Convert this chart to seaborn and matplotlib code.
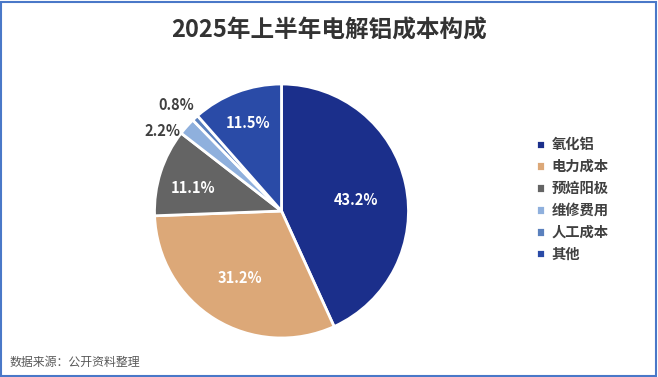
import numpy as np
import matplotlib
matplotlib.use("Agg")
import matplotlib.pyplot as plt
import seaborn as sns
from matplotlib.patches import Rectangle

sns.set_theme(style="white")
plt.rcParams['font.family'] = ['Noto Sans CJK SC', 'DejaVu Sans']

# Data
categories = ["氧化铝", "电力成本", "预焙阳极", "维修费用", "人工成本", "其他"]
shares = [43.2, 31.2, 11.1, 2.2, 0.8, 11.5]
colors = ["#1b2f8b", "#dca878", "#646464", "#8fb0dd", "#5a80bd", "#2a4ba7"]
title = "2025年上半年电解铝成本构成"
source = "数据来源：公开资料整理"

# label placement per slice (radial distance, angle nudge in degrees)
label_dist = [0.59, 0.62, 0.72, 1.13, 1.18, 0.74]
label_nudge = [-4, 0, 3, 8, 2, 0]
label_inside = [True, True, True, False, False, True]

fig = plt.figure(figsize=(6.58, 3.77), dpi=100)
W, H = 658, 377

# pie axes positioned by pixel centre / radius
cx, cy, r = 281.5, 211, 127
ax = fig.add_axes([(cx - r) / W, (H - cy - r) / H, 2 * r / W, 2 * r / H])
wedges, _ = ax.pie(shares, colors=colors, startangle=90, counterclock=False,
                   wedgeprops=dict(edgecolor="white", linewidth=2))
ax.set_xlim(-1, 1)
ax.set_ylim(-1, 1)
ax.set_aspect("equal")
ax.axis("off")

for w, val, d, nud, inside in zip(wedges, shares, label_dist, label_nudge, label_inside):
    ang = np.deg2rad((w.theta1 + w.theta2) / 2 + nud)
    ax.text(d * np.cos(ang), d * np.sin(ang), f"{val:.1f}%",
            ha="center", va="center", fontsize=10.5, fontweight="bold",
            color="white" if inside else "#404040", clip_on=False)

fig.text(0.5, 1 - 31 / H, title, ha="center", va="center",
         fontsize=17, fontweight="bold", color="#333333")

# legend
leg = fig.legend(wedges, categories, loc="center left",
                 bbox_to_anchor=(523 / W, 1 - 200 / H), frameon=False,
                 handlelength=0.65, handleheight=0.65, handletextpad=0.45,
                 labelspacing=0.55, fontsize=10.3)
for t in leg.get_texts():
    t.set_color("#404040")
    t.set_fontweight("bold")

fig.text(10 / W, 1 - 362 / H, source, ha="left", va="center",
         fontsize=8.6, color="#595959")

# outer border
fig.patches.append(Rectangle((0.0015, 0.002), 0.996, 0.994, transform=fig.transFigure,
                             fill=False, edgecolor="#4a78c8", linewidth=1.5))

fig.savefig("out.png", dpi=100)
